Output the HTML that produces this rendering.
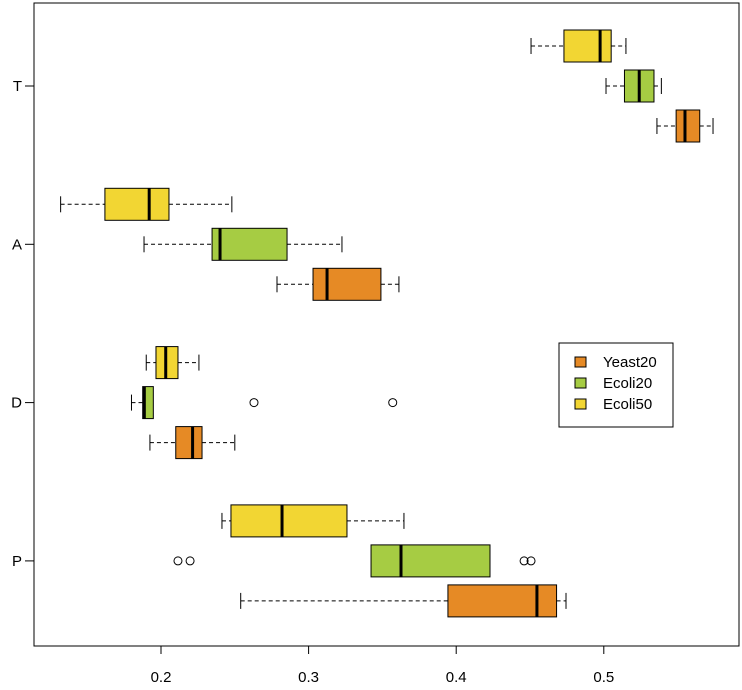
<!DOCTYPE html>
<html><head><meta charset="utf-8"><style>
body{margin:0;background:#fff}
svg text{font-family:"Liberation Sans",sans-serif;font-size:15px;fill:#000}
</style></head><body>
<svg id="chart" width="742" height="685" xmlns="http://www.w3.org/2000/svg"></svg>
<script>
const categories=["T","A","D","P"];
const seriesNames=["Ecoli50","Ecoli20","Yeast20"];
const seriesColors=["#F2D633","#A6CC43","#E68A25"];
// per category, per series: [lowWhisker,q1,median,q3,highWhisker]
const statsT=[[0.4507,0.473,0.4975,0.505,0.515],[0.5015,0.514,0.524,0.534,0.539],[0.536,0.549,0.555,0.565,0.574]];
const statsA=[[0.132,0.162,0.192,0.2054,0.248],[0.1885,0.2346,0.240,0.2854,0.3226],[0.2786,0.303,0.3125,0.349,0.3612]];
const statsD=[[0.190,0.1966,0.2032,0.2115,0.2257],[0.180,0.1876,0.1887,0.1948,0.1948],[0.1925,0.21,0.2214,0.2278,0.250]];
const statsP=[[0.2413,0.2474,0.282,0.326,0.3646],[0.3423,0.3423,0.3626,0.4229,0.4229],[0.254,0.3944,0.4547,0.468,0.4744]];
const outliersD=[[],[0.263,0.357],[]];
const outliersP=[[],[0.2115,0.2197,0.446,0.4507],[]];
const xTicks=[0.2,0.3,0.4,0.5];
const xTickLabels=["0.2","0.3","0.4","0.5"];

const allStats=[statsT,statsA,statsD,statsP];
const allOut=[[[],[],[]],[[],[],[]],outliersD,outliersP];
const svg=document.getElementById('chart');
const NS="http://www.w3.org/2000/svg";
const L=34,R=739,T=3,B=646;
const x=v=>161+(v-0.2)*1476;
const catY=i=>86+i*158.3;
const offs=[-40,0,40];
function mk(tag,at,parent){const e=document.createElementNS(NS,tag);for(const k in at)e.setAttribute(k,at[k]);(parent||svg).appendChild(e);return e;}

const frame=mk('rect',{x:L,y:T,width:R-L,height:B-T,fill:'none',stroke:'#000','stroke-width':1});



xTicks.forEach((t,i)=>{
  const g=mk('g',{});
  
  
  mk('line',{x1:x(t),x2:x(t),y1:B,y2:B+8,stroke:'#000'},g);
  const tx=mk('text',{x:x(t),y:682,'text-anchor':'middle'},g);tx.textContent=xTickLabels[i];
});
categories.forEach((c,i)=>{
  const g=mk('g',{});
  
  
  mk('line',{x1:L-9,x2:L,y1:catY(i),y2:catY(i),stroke:'#000'},g);
  const tx=mk('text',{x:L-12,y:catY(i)+5,'text-anchor':'end'},g);tx.textContent=c;
});

allStats.forEach((cs,ci)=>{
  cs.forEach((s,si)=>{
    const cy=catY(ci)+offs[si],h=16;
    const g=mk('g',{});
    
    
    if(s[0]<s[1]){mk('line',{x1:x(s[0]),x2:x(s[1]),y1:cy,y2:cy,stroke:'#000','stroke-dasharray':'4,3'},g);
      mk('line',{x1:x(s[0]),x2:x(s[0]),y1:cy-8,y2:cy+8,stroke:'#000'},g);}
    if(s[4]>s[3]){mk('line',{x1:x(s[3]),x2:x(s[4]),y1:cy,y2:cy,stroke:'#000','stroke-dasharray':'4,3'},g);
      mk('line',{x1:x(s[4]),x2:x(s[4]),y1:cy-8,y2:cy+8,stroke:'#000'},g);}
    mk('rect',{x:x(s[1]),y:cy-h,width:x(s[3])-x(s[1]),height:2*h,fill:seriesColors[si],stroke:'#000'},g);
    mk('line',{x1:x(s[2]),x2:x(s[2]),y1:cy-h,y2:cy+h,stroke:'#000','stroke-width':3},g);
    allOut[ci][si].forEach(o=>{
      const p=mk('circle',{cx:x(o),cy:cy,r:4,fill:'none',stroke:'#000'},g);
      
      
    });
  });
});

const lg=mk('g',{});


mk('rect',{x:559,y:343,width:114,height:84,fill:'#fff',stroke:'#000'},lg);
[[2,'Yeast20'],[1,'Ecoli20'],[0,'Ecoli50']].forEach(([si,n],k)=>{
  const e=mk('g',{},lg);
  
  
  const yy=362+k*21;
  mk('rect',{x:575,y:yy-5,width:11,height:10,fill:seriesColors[si],stroke:'#000'},e);
  const t=mk('text',{x:603,y:yy+5},e);t.textContent=n;
});
</script>
</body></html>
